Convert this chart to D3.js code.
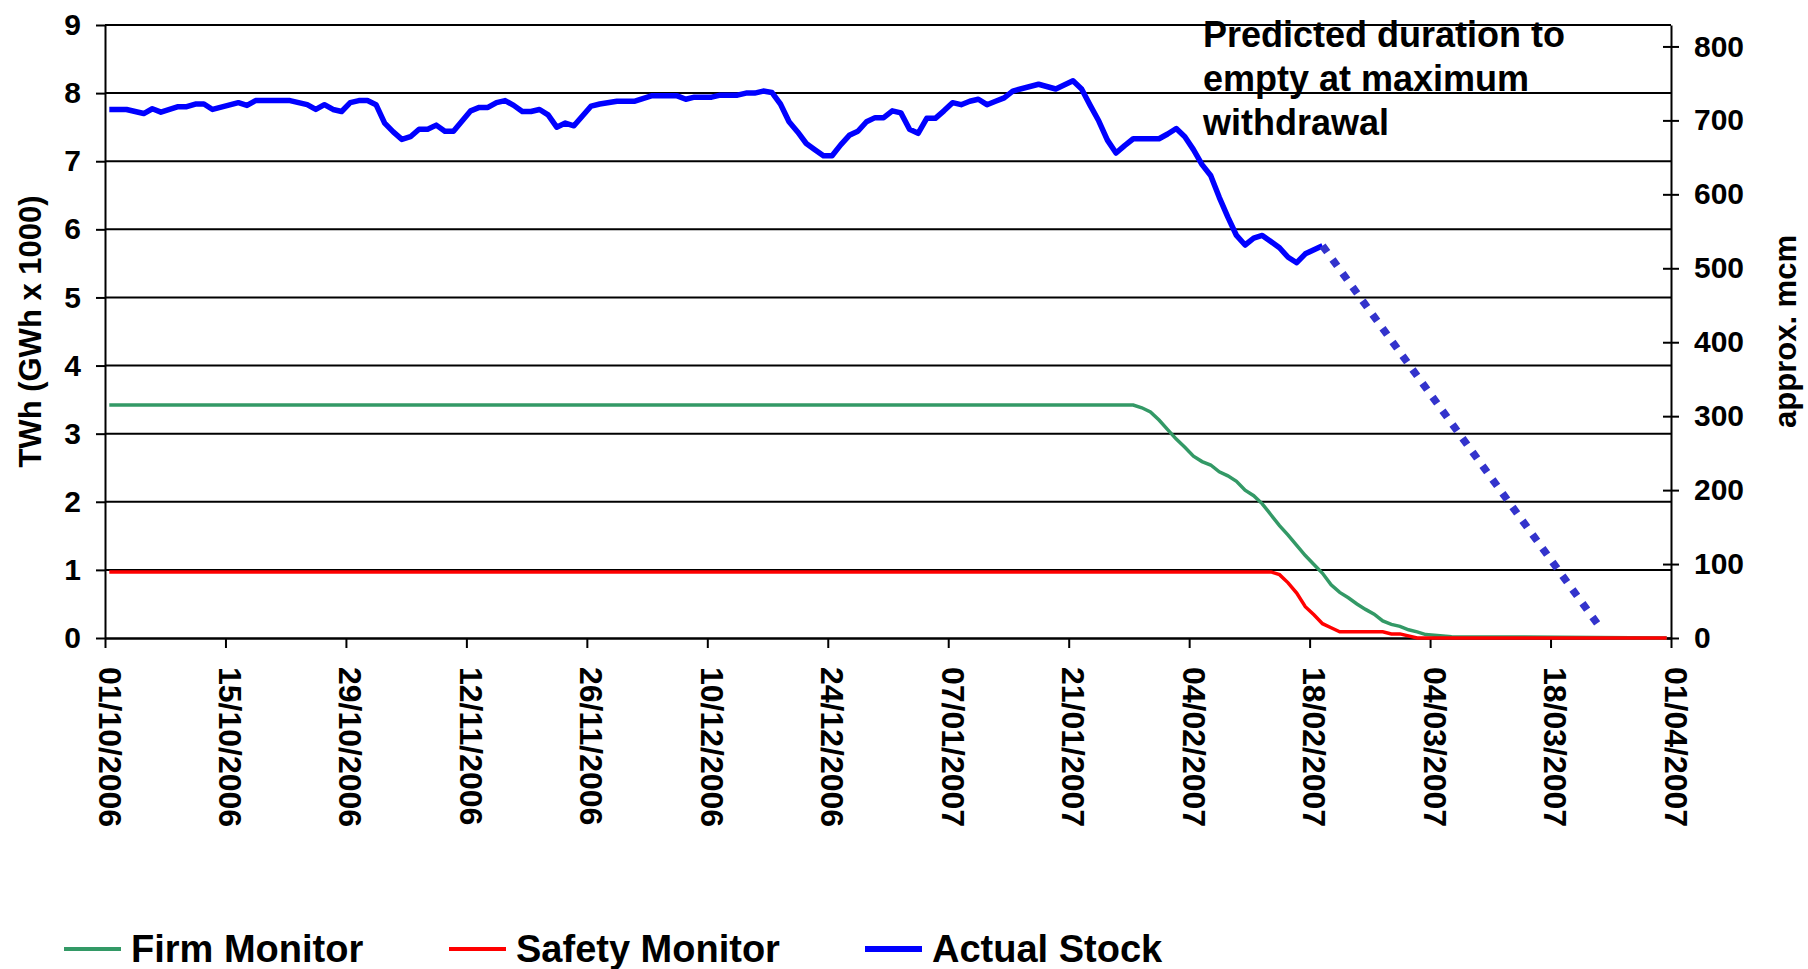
<!DOCTYPE html>
<html>
<head>
<meta charset="utf-8">
<script src="https://cdn.jsdelivr.net/npm/d3@7"></script>
<style>
  body { margin: 0; background: #fff; }
  svg { display: block; font-family: "Liberation Sans", Arial, sans-serif; font-weight: bold; }
</style>
</head>
<body>
<script>
// storage monitors vs actual stock, winter 2006/07
const startDate = "01/10/2006";
const endDate = "01/04/2007";
const tickLabels = ["01/10/2006", "15/10/2006", "29/10/2006", "12/11/2006", "26/11/2006",
  "10/12/2006", "24/12/2006", "07/01/2007", "21/01/2007", "04/02/2007", "18/02/2007",
  "04/03/2007", "18/03/2007", "01/04/2007"];
const leftTicks = [0, 1, 2, 3, 4, 5, 6, 7, 8, 9];
const rightTicks = [0, 100, 200, 300, 400, 500, 600, 700, 800];

// days after 01/10/2006
const stockDay = [0, 2, 4, 5, 6, 8, 9, 10, 11, 12, 15, 16, 17, 21, 23, 24, 25, 26, 27, 28, 29, 30, 31,
  32, 33, 34, 35, 36, 37, 38, 39, 40, 42, 43, 44, 45, 46, 47, 48, 49, 50, 51, 52, 53, 54, 56, 57,
  59, 61, 63, 66, 67, 68, 70, 71, 73, 74, 75, 76, 77, 78, 79, 80, 81, 82, 83, 84, 85, 86, 87, 88,
  89, 90, 91, 92, 93, 94, 95, 96, 97, 98, 99, 100, 101, 102, 103, 104, 105, 108, 110, 112, 113,
  114, 115, 116, 117, 118, 119, 122, 123, 124, 125, 126, 127, 128, 129, 130, 131, 132, 133, 134,
  136, 137, 138, 139, 141];
const stockTWh = [7.76, 7.76, 7.70, 7.77, 7.72, 7.80, 7.80, 7.84, 7.84, 7.76, 7.86, 7.82, 7.89, 7.89,
  7.83, 7.76, 7.83, 7.76, 7.73, 7.86, 7.89, 7.89, 7.83, 7.56, 7.43, 7.32, 7.36, 7.47, 7.47, 7.53,
  7.44, 7.44, 7.74, 7.79, 7.79, 7.86, 7.89, 7.82, 7.73, 7.73, 7.76, 7.68, 7.50, 7.56, 7.52, 7.81,
  7.84, 7.88, 7.88, 7.96, 7.96, 7.91, 7.94, 7.94, 7.97, 7.97, 8.00, 8.00, 8.03, 8.01, 7.84, 7.58,
  7.43, 7.26, 7.17, 7.08, 7.08, 7.24, 7.38, 7.44, 7.58, 7.64, 7.64, 7.74, 7.71, 7.47, 7.41, 7.63,
  7.63, 7.74, 7.86, 7.83, 7.88, 7.91, 7.83, 7.88, 7.93, 8.03, 8.13, 8.06, 8.18, 8.06, 7.82, 7.59,
  7.31, 7.12, 7.23, 7.33, 7.33, 7.40, 7.48, 7.36, 7.17, 6.95, 6.79, 6.47, 6.18, 5.91, 5.77, 5.87,
  5.91, 5.73, 5.59, 5.51, 5.64, 5.76];

const firmDay = [0, 119, 120, 121, 122, 123, 124, 125, 126, 127, 128, 129, 130, 131, 132, 133,
  134, 135, 136, 137, 138, 139, 140, 141, 142, 143, 144, 145, 146, 147, 148, 149, 150, 151, 152,
  153, 154, 156, 181];
const firmTWh = [3.42, 3.42, 3.38, 3.32, 3.20, 3.06, 2.92, 2.80, 2.67, 2.59, 2.54, 2.44, 2.38,
  2.30, 2.17, 2.09, 1.97, 1.81, 1.65, 1.51, 1.36, 1.21, 1.08, 0.95, 0.78, 0.67, 0.59, 0.50, 0.42,
  0.35, 0.25, 0.20, 0.17, 0.12, 0.09, 0.05, 0.04, 0.02, 0];

const safetyDay = [0, 135, 136, 137, 138, 139, 140, 141, 142, 143, 148, 149, 150, 152, 181];
const safetyTWh = [0.97, 0.97, 0.93, 0.81, 0.66, 0.46, 0.34, 0.21, 0.15, 0.09, 0.09, 0.06, 0.06, 0, 0];

const predictedDay = [141, 173];
const predictedTWh = [5.76, 0.2];

const width = 1808, height = 969;
const margin = {top: 25, right: 137, bottom: 331, left: 105};
const parse = d3.utcParse("%d/%m/%Y");
const t0 = parse(startDate);

const svg = d3.select("body").append("svg")
    .attr("width", width)
    .attr("height", height);

const x = d3.scaleUtc()
    .domain([t0, parse(endDate)])
    .range([margin.left, width - margin.right]);
const y = d3.scaleLinear()
    .domain([0, 9])
    .range([height - margin.bottom, margin.top]);
// right axis in mcm, same vertical span
const y2 = d3.scaleLinear()
    .domain([0, 829])
    .range([height - margin.bottom, margin.top]);

// excel date axis puts points in the middle of the day
const dayX = d => x(d3.utcHour.offset(t0, d * 24 + 12));

function pts(days, vals) {
  return days.map((d, i) => [d, vals[i]]);
}

const line = d3.line()
    .x(d => dayX(d[0]))
    .y(d => y(d[1]));

// gridlines
svg.append("g")
    .selectAll("line")
    .data(leftTicks.filter(v => v > 0))
    .join("line")
    .attr("x1", margin.left)
    .attr("x2", width - margin.right)
    .attr("y1", d => y(d))
    .attr("y2", d => y(d))
    .attr("stroke", "#000")
    .attr("stroke-width", 2);

// left axis
svg.append("g")
    .attr("transform", `translate(${margin.left},0)`)
    .call(d3.axisLeft(y).tickValues(leftTicks).tickSize(9).tickPadding(15).tickSizeOuter(0))
    .call(g => g.select(".domain").attr("stroke-width", 2))
    .call(g => g.selectAll(".tick line").attr("stroke-width", 2))
    .call(g => g.selectAll(".tick text")
        .attr("font-size", 30)
        .attr("font-family", "Liberation Sans, Arial, sans-serif")
        .attr("font-weight", "bold")
        .attr("fill", "#000"));

// right axis
svg.append("g")
    .attr("transform", `translate(${width - margin.right},0)`)
    .call(d3.axisRight(y2).tickValues(rightTicks).tickSize(8).tickPadding(15).tickSizeOuter(0))
    .call(g => g.select(".domain").attr("stroke-width", 2))
    .call(g => g.selectAll(".tick line").attr("x1", -8).attr("stroke-width", 2))
    .call(g => g.selectAll(".tick text")
        .attr("font-size", 30)
        .attr("font-family", "Liberation Sans, Arial, sans-serif")
        .attr("font-weight", "bold")
        .attr("fill", "#000"));

// x axis
svg.append("g")
    .attr("transform", `translate(0,${height - margin.bottom})`)
    .call(d3.axisBottom(x)
        .tickValues(tickLabels.map(parse))
        .tickFormat(d3.utcFormat("%d/%m/%Y"))
        .tickSize(10)
        .tickSizeOuter(0))
    .call(g => g.select(".domain").attr("stroke-width", 2.5))
    .call(g => g.selectAll(".tick line").attr("stroke-width", 2))
    .call(g => g.selectAll(".tick text")
        .attr("font-size", 32)
        .attr("font-family", "Liberation Sans, Arial, sans-serif")
        .attr("font-weight", "bold")
        .attr("fill", "#000")
        .attr("text-anchor", "start")
        .attr("dy", null)
        .attr("y", null)
        .attr("transform", "translate(-7,29) rotate(90)"));

// series
svg.append("path")
    .datum(pts(firmDay, firmTWh))
    .attr("fill", "none")
    .attr("stroke", "#339966")
    .attr("stroke-width", 3.5)
    .attr("d", line);

svg.append("path")
    .datum(pts(safetyDay, safetyTWh))
    .attr("fill", "none")
    .attr("stroke", "#ff0000")
    .attr("stroke-width", 3.5)
    .attr("d", line);

svg.append("path")
    .datum(pts(stockDay, stockTWh))
    .attr("fill", "none")
    .attr("stroke", "#0000ff")
    .attr("stroke-width", 5.5)
    .attr("stroke-linejoin", "round")
    .attr("d", line);

svg.append("path")
    .datum(pts(predictedDay, predictedTWh))
    .attr("fill", "none")
    .attr("stroke", "#3333cc")
    .attr("stroke-width", 7.5)
    .attr("stroke-dasharray", "8 9")
    .attr("d", line);

// axis titles
const midY = (margin.top + height - margin.bottom) / 2;
svg.append("text")
    .attr("transform", `translate(30,${midY}) rotate(-90)`)
    .attr("text-anchor", "middle")
    .attr("dy", "0.36em")
    .attr("font-size", 31)
    .text("TWh (GWh x 1000)");

svg.append("text")
    .attr("transform", `translate(1785,${midY}) rotate(-90)`)
    .attr("text-anchor", "middle")
    .attr("dy", "0.36em")
    .attr("font-size", 31)
    .text("approx. mcm");

// annotation
const note = ["Predicted duration to", "empty at maximum", "withdrawal"];
svg.append("text")
    .attr("font-size", 36)
    .selectAll("tspan")
    .data(note)
    .join("tspan")
    .attr("x", 1203)
    .attr("y", (d, i) => 47 + i * 44)
    .text(d => d);

// legend
const legend = [
  {name: "Firm Monitor", color: "#339966", w: 4, x: 64},
  {name: "Safety Monitor", color: "#ff0000", w: 4, x: 449},
  {name: "Actual Stock", color: "#0000ff", w: 6, x: 865}
];
const lg = svg.append("g").selectAll("g").data(legend).join("g")
    .attr("transform", d => `translate(${d.x},949)`);
lg.append("line")
    .attr("x1", 0).attr("x2", 57)
    .attr("stroke", d => d.color)
    .attr("stroke-width", d => d.w);
lg.append("text")
    .attr("x", 67)
    .attr("y", 13)
    .attr("font-size", 38)
    .text(d => d.name);
</script>
</body>
</html>
